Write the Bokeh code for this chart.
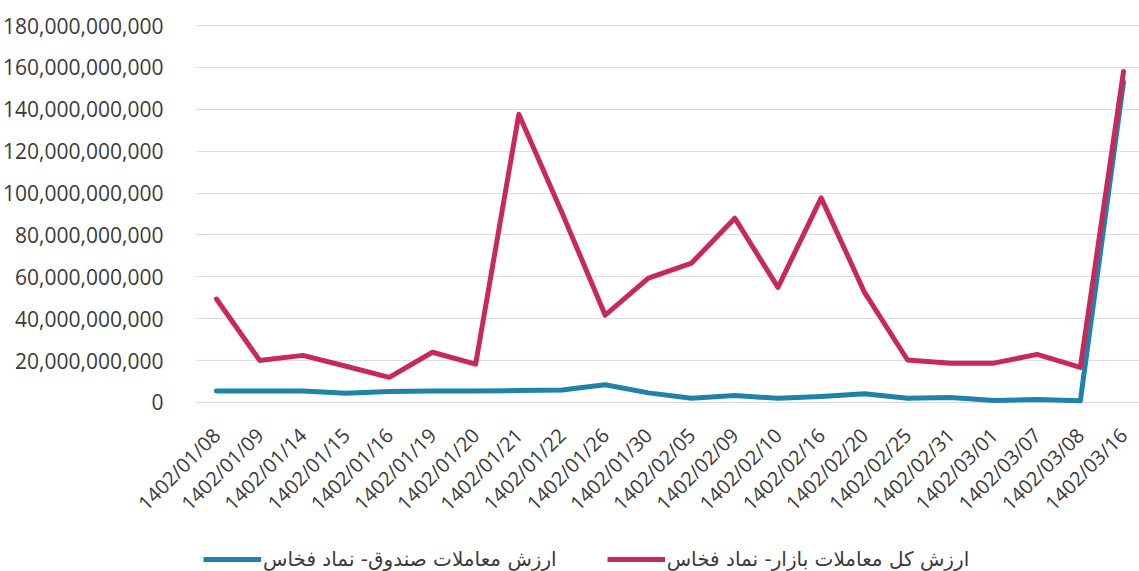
import math
from bokeh.plotting import figure
from bokeh.layouts import column
from bokeh.models import (ColumnDataSource, FixedTicker, NumeralTickFormatter,
                          Legend, LegendItem, Range1d)
from bokeh.embed import file_html
from bokeh.resources import INLINE

dates = ["1402/01/08", "1402/01/09", "1402/01/14", "1402/01/15", "1402/01/16",
         "1402/01/19", "1402/01/20", "1402/01/21", "1402/01/22", "1402/01/26",
         "1402/01/30", "1402/02/05", "1402/02/09", "1402/02/10", "1402/02/16",
         "1402/02/20", "1402/02/25", "1402/02/31", "1402/03/01", "1402/03/07",
         "1402/03/08", "1402/03/16"]

# billions of rials
market_total = [49.4, 20.1, 22.5, 17.3, 12.0, 24.0, 18.3, 137.6, 90.6, 41.7,
                59.4, 66.6, 88.0, 55.0, 97.7, 52.7, 20.3, 18.7, 18.8, 23.0,
                16.8, 158.0]
fund_value = [5.5, 5.5, 5.5, 4.4, 5.2, 5.5, 5.5, 5.7, 6.0, 8.5,
              4.6, 2.0, 3.3, 2.0, 2.9, 4.2, 2.0, 2.4, 1.0, 1.4,
              0.8, 153.0]

label_market = "ارزش کل معاملات بازار- نماد فخاس"
label_fund = "ارزش معاملات صندوق- نماد فخاس"

y_ticks = [i * 20e9 for i in range(10)]

FUND_COLOR = "#1f82a8"
MARKET_COLOR = "#c8285c"

x_idx = list(range(len(dates)))
src = ColumnDataSource(dict(
    x=x_idx,
    market=[v * 1e9 for v in market_total],
    fund=[v * 1e9 for v in fund_value],
))

p = figure(width=1139, height=535, output_backend="svg", toolbar_location=None,
           x_range=Range1d(-0.4625, 21.37), y_range=Range1d(-0.955e9, 183.35e9),
           min_border_left=195, min_border_right=0, min_border_top=18,
           min_border_bottom=131)
p.outline_line_color = None
p.background_fill_color = "white"
p.border_fill_color = "white"

p.line("x", "fund", source=src, line_color=FUND_COLOR, line_width=5,
       line_join="round", line_cap="round")
p.line("x", "market", source=src, line_color=MARKET_COLOR, line_width=5,
       line_join="round", line_cap="round")

p.xgrid.grid_line_color = None
p.ygrid.grid_line_color = "#dcdbe9"
p.ygrid.grid_line_width = 1.2
p.yaxis.ticker = FixedTicker(ticks=y_ticks)
p.yaxis.formatter = NumeralTickFormatter(format="0,0")
p.xaxis.ticker = FixedTicker(ticks=x_idx)
p.xaxis.major_label_overrides = {i: d for i, d in enumerate(dates)}
p.xaxis.major_label_orientation = math.pi / 4

for ax in (p.xaxis[0], p.yaxis[0]):
    ax.axis_line_color = None
    ax.major_tick_line_color = None
    ax.minor_tick_line_color = None
    ax.major_label_text_font = "Open Sans"
    ax.major_label_text_color = "#3a3a3a"
p.yaxis.major_label_text_font_size = "21px"
p.xaxis.major_label_text_font_size = "20px"
p.yaxis.major_label_standoff = 27
p.xaxis.major_label_standoff = 21

# legend strip below the chart; the proxies hold only NaN so they draw nothing
lg = figure(width=1139, height=36, output_backend="svg", toolbar_location=None,
            min_border=0, x_range=Range1d(0, 1), y_range=Range1d(0, 1))
lg.outline_line_color = None
lg.axis.visible = False
lg.grid.visible = False
lg.border_fill_color = "white"
nan = float("nan")
proxy_fund = lg.line(x=[nan], y=[nan], line_color=FUND_COLOR, line_width=5)
proxy_market = lg.line(x=[nan], y=[nan], line_color=MARKET_COLOR, line_width=5)

legend = Legend(items=[LegendItem(label=label_fund, renderers=[proxy_fund]),
                       LegendItem(label=label_market, renderers=[proxy_market])],
                orientation="horizontal", location=(7, 0),
                label_text_font="DejaVu Sans", label_text_font_size="20px",
                label_text_color="#3a3a3a", glyph_width=58, glyph_height=20,
                label_standoff=2, spacing=50, border_line_color=None,
                background_fill_alpha=0, padding=0, margin=0)
lg.add_layout(legend)

layout = column(p, lg, spacing=0)
open("out.html", "w").write(file_html(layout, INLINE))
